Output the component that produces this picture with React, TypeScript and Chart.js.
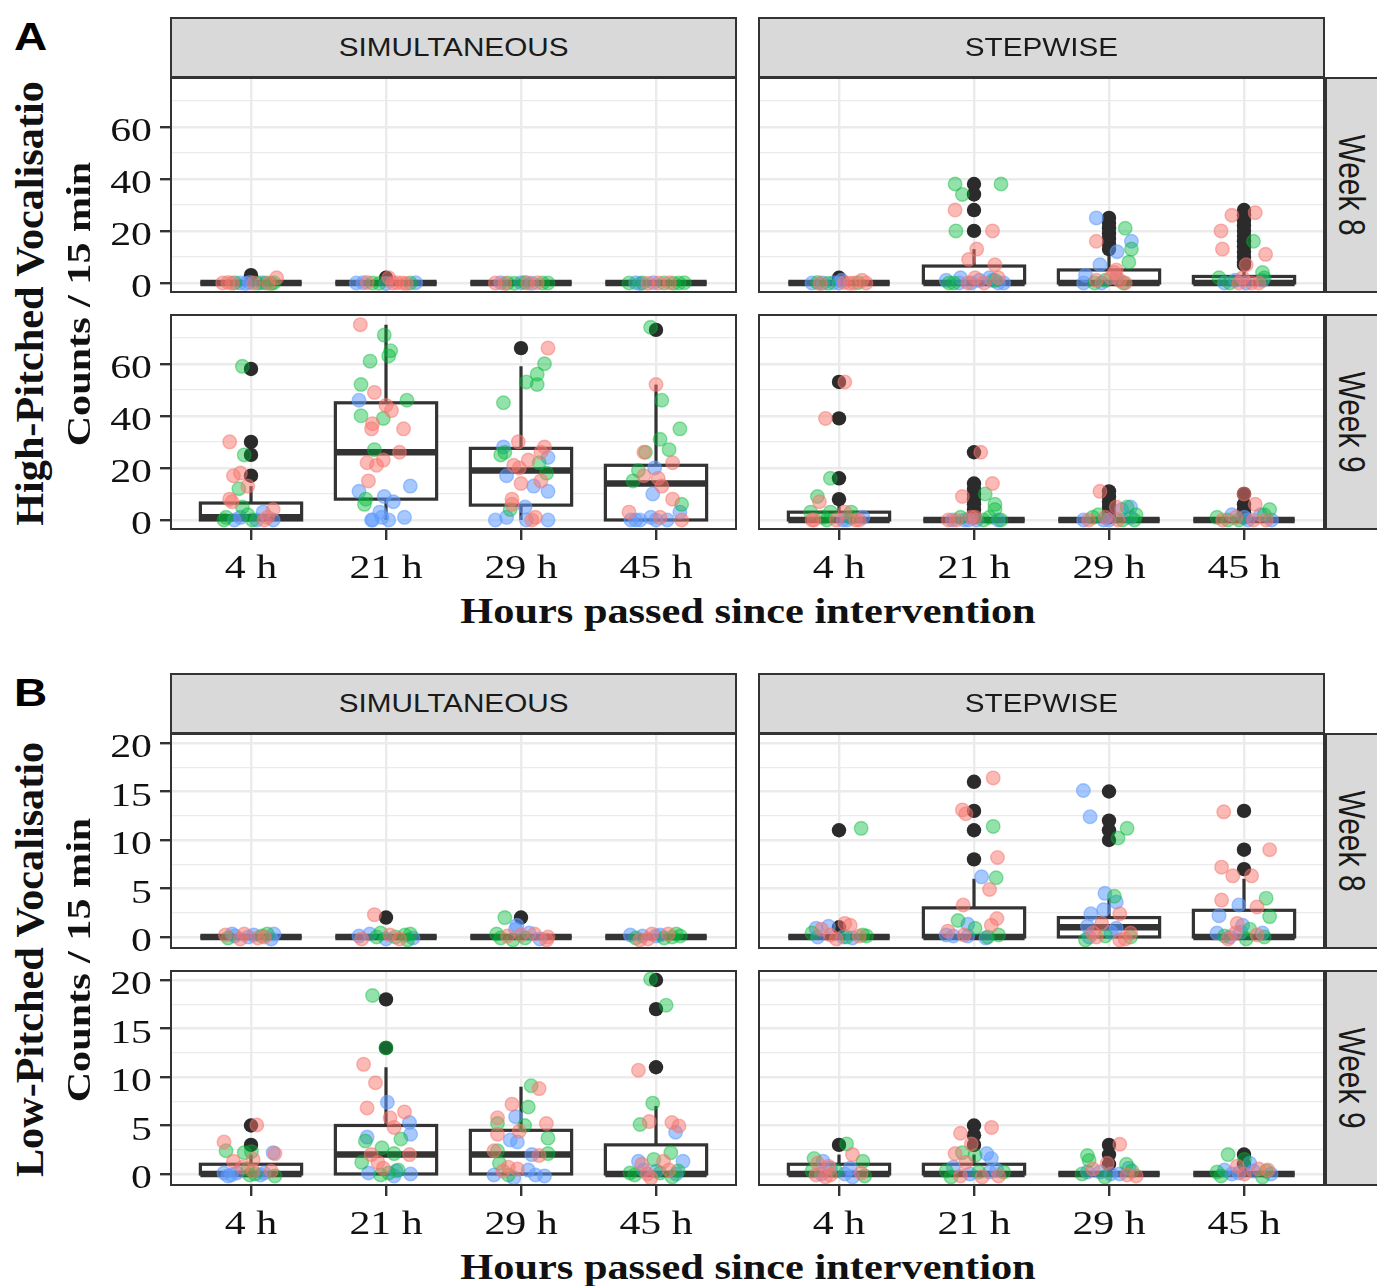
import React, { useEffect, useRef } from 'react';
import { Chart, registerables } from 'chart.js';

Chart.register(...registerables);

type Box = [number, number, number, number, number];
type Outlier = [number, number];
type Pt = [number, number, number, number];

// ---------------- data ----------------
const CATEGORIES = ['4 h', '21 h', '29 h', '45 h'];
const GROUPS = ['Group 1', 'Group 2', 'Group 3'];
const COLUMN_LABELS = ['SIMULTANEOUS', 'STEPWISE'];
const ROW_LABELS = ['Week 8', 'Week 9'];
const X_TITLE = 'Hours passed since intervention';
const Y_TITLE_A = ['High-Pitched Vocalisatio', 'Counts / 15 min'];
const Y_TITLE_B = ['Low-Pitched Vocalisatio', 'Counts / 15 min'];

const Y_RANGE_A = [-3.85, 79.1];
const Y_MAJOR_A = [0, 20, 40, 60];
const Y_MINOR_A = [10, 30, 50, 70];
const Y_RANGE_B = [-1.24, 21.03];
const Y_MAJOR_B = [0, 5, 10, 15, 20];
const Y_MINOR_B = [2.5, 7.5, 12.5, 17.5];

// box stats per category: [lower whisker, q1, median, q3, upper whisker]
const BOX_A_W8_SIM: Box[] = [[0, 0, 0, 0, 0], [0, 0, 0, 0, 0], [0, 0, 0, 0, 0], [0, 0, 0, 0, 0]];
const BOX_A_W8_STEP: Box[] = [[0, 0, 0, 0, 0], [0, 0, 0, 6.5, 13], [0, 0, 0, 5, 12], [0, 0, 0, 2.5, 6]];
const BOX_A_W9_SIM: Box[] = [[0, 0, 1, 6.5, 13], [0, 8, 26, 45, 75], [0, 5.7, 19, 27.5, 59], [0, 0, 14, 21, 52]];
const BOX_A_W9_STEP: Box[] = [[0, 0, 0, 3, 7], [0, 0, 0, 0, 0], [0, 0, 0, 0, 0], [0, 0, 0, 0, 0]];
const BOX_B_W8_SIM: Box[] = [[0, 0, 0, 0, 0], [0, 0, 0, 0, 0], [0, 0, 0, 0, 0], [0, 0, 0, 0, 0]];
const BOX_B_W8_STEP: Box[] = [[0, 0, 0, 0, 0], [0, 0, 0, 3, 6], [0, 0, 1, 2, 4], [0, 0, 0, 2.75, 6]];
const BOX_B_W9_SIM: Box[] = [[0, 0, 0, 1, 2], [0, 0, 2, 5, 11], [0, 0, 2, 4.5, 9], [0, 0, 0, 3, 7]];
const BOX_B_W9_STEP: Box[] = [[0, 0, 0, 1, 2], [0, 0, 0, 1, 2], [0, 0, 0, 0, 0], [0, 0, 0, 0, 0]];

// outliers: [category, value]
const OUT_A_W8_SIM: Outlier[] = [[1, 3], [2, 2]];
const OUT_A_W8_STEP: Outlier[] = [
  [1, 2],
  [2, 38], [2, 34], [2, 28], [2, 20],
  [3, 25], [3, 23], [3, 21], [3, 19], [3, 17], [3, 15], [3, 13],
  [4, 28], [4, 26], [4, 24], [4, 22], [4, 20], [4, 18], [4, 16], [4, 14], [4, 12], [4, 10], [4, 8], [4, 7],
];
const OUT_A_W9_SIM: Outlier[] = [[1, 58], [1, 30], [1, 25], [1, 17], [3, 66], [4, 73]];
const OUT_A_W9_STEP: Outlier[] = [
  [1, 53], [1, 39], [1, 16], [1, 8],
  [2, 26], [2, 14], [2, 12], [2, 10], [2, 8], [2, 6], [2, 4], [2, 2], [2, 1],
  [3, 11], [3, 9], [3, 7], [3, 5], [3, 3], [3, 2], [3, 1],
  [4, 10], [4, 6], [4, 4], [4, 3], [4, 2], [4, 1],
];
const OUT_B_W8_SIM: Outlier[] = [[2, 2], [3, 2]];
const OUT_B_W8_STEP: Outlier[] = [
  [1, 11], [1, 1],
  [2, 16], [2, 13], [2, 11], [2, 8],
  [3, 15], [3, 12], [3, 11], [3, 10],
  [4, 13], [4, 9], [4, 7],
];
const OUT_B_W9_SIM: Outlier[] = [[1, 5], [1, 3], [2, 18], [2, 13], [4, 20], [4, 17], [4, 11]];
const OUT_B_W9_STEP: Outlier[] = [[1, 3], [2, 5], [2, 4], [2, 3], [3, 3], [3, 2], [3, 1], [4, 2], [4, 1]];

// jittered observations: [category, jitter offset, value, group]
const PTS_A_W8_SIM: Pt[] = [
  [1, -0.21, 0, 0], [1, -0.17, 0.2, 0], [1, -0.14, -0.1, 0], [1, -0.12, 0.1, 1], [1, -0.08, 0, 2], [1, -0.04, -0.2, 2], [1, -0.01, 0.2, 2], [1, 0.02, 0, 0], [1, 0.05, -0.1, 1], [1, 0.08, 0.1, 2], [1, 0.11, 0, 1], [1, 0.15, -0.2, 1], [1, 0.17, 0.1, 1], [1, 0.19, 2, 0], [1, 0.13, 0, 0],
  [2, -0.22, 0, 2], [2, -0.17, 0.1, 2], [2, -0.1, 0, 1], [2, -0.05, -0.1, 1], [2, 0.02, 2, 0], [2, 0.05, 0, 0], [2, 0.08, 0.1, 0], [2, 0.12, 0, 0], [2, 0.15, -0.2, 0], [2, 0.18, 0, 1], [2, 0.22, 0.1, 2], [2, -0.14, 0.2, 0], [2, 0, -0.2, 2],
  [3, -0.19, 0, 0], [3, -0.15, 0.1, 2], [3, -0.1, 0, 1], [3, -0.05, -0.1, 1], [3, 0, 0.1, 2], [3, 0.05, 0, 0], [3, 0.08, -0.1, 2], [3, 0.12, 0.1, 0], [3, 0.16, 0, 1], [3, 0.2, 0, 1], [3, -0.12, -0.2, 0], [3, 0.03, 0.2, 1],
  [4, -0.2, 0, 1], [4, -0.15, 0.1, 2], [4, -0.1, 0, 1], [4, -0.06, -0.1, 0], [4, -0.02, 0.1, 2], [4, 0.02, 0, 0], [4, 0.06, 0, 1], [4, 0.1, 0.1, 0], [4, 0.13, -0.1, 1], [4, 0.17, 0, 1], [4, 0.21, 0.1, 1], [4, -0.12, -0.2, 2],
];
const PTS_A_W8_STEP: Pt[] = [
  [1, -0.2, 0, 2], [1, -0.16, 0.2, 1], [1, -0.12, 0, 2], [1, -0.08, -0.1, 1], [1, -0.04, 0.1, 2], [1, 0, 0, 2], [1, 0.04, 0.2, 0], [1, 0.08, -0.1, 0], [1, 0.11, 0, 0], [1, 0.14, 0.1, 1], [1, 0.17, 1, 0], [1, 0.2, 0, 0], [1, -0.14, -0.2, 0], [1, 0.02, 1, 2],
  [2, -0.14, 38, 1], [2, 0.2, 38, 1], [2, -0.086, 34, 1], [2, -0.14, 28, 0], [2, -0.134, 20, 1], [2, 0.137, 20, 0], [2, 0.02, 13, 0], [2, -0.04, 9, 0], [2, 0.155, 7, 0],
  [2, -0.206, 1, 2], [2, -0.185, 0, 1], [2, -0.1, 2, 2], [2, -0.11, 0, 2], [2, 0.008, 2, 0], [2, 0.04, 1, 2], [2, -0.045, 0, 0], [2, 0.137, 1, 2], [2, 0.18, 0, 2], [2, 0.22, 0, 2], [2, 0.115, 2, 2], [2, -0.15, 0, 1], [2, 0.075, 0, 0], [2, -0.02, 0, 2], [2, 0.155, 1, 1], [2, 0.18, 2, 0],
  [3, -0.094, 25, 2], [3, -0.094, 16, 0], [3, 0.12, 21, 1], [3, 0.166, 16, 2], [3, 0.166, 13, 1], [3, 0.06, 12, 2], [3, 0.147, 8, 1], [3, -0.067, 7, 2], [3, 0.054, 5, 0], [3, 0.04, 4, 0], [3, -0.174, 3, 2], [3, -0.188, 0, 2], [3, -0.094, 1, 0], [3, -0.027, 1, 1], [3, 0.013, 2, 0], [3, 0.054, 2, 2], [3, 0.08, 1, 0], [3, 0.12, 0, 0], [3, -0.107, 0, 1], [3, -0.054, 0, 2], [3, 0.107, 0, 1],
  [4, -0.09, 26, 0], [4, 0.083, 27, 0], [4, -0.17, 20, 0], [4, -0.16, 13, 0], [4, 0.07, 16, 1], [4, 0.16, 11, 0], [4, 0.016, 7, 0], [4, 0.137, 4, 1], [4, -0.185, 2, 1], [4, -0.145, 0, 2], [4, -0.105, 0, 1], [4, -0.01, 2, 0], [4, 0.016, 0, 2], [4, 0.056, 0, 0], [4, 0.137, 1, 2], [4, 0.15, 2, 1], [4, -0.038, 0, 0], [4, -0.064, 1, 2], [4, 0.11, 0, 0],
];
const PTS_A_W9_SIM: Pt[] = [
  [1, -0.064, 59, 1], [1, -0.158, 30, 0], [1, -0.05, 25, 1], [1, -0.13, 17, 0], [1, -0.078, 18, 0], [1, -0.024, 13, 0], [1, -0.09, 12, 1], [1, -0.158, 8, 0], [1, -0.14, 7, 0], [1, -0.064, 5, 1], [1, 0.164, 4, 0], [1, -0.185, 1, 1], [1, -0.078, 1, 2], [1, 0.09, 3, 2], [1, 0.164, 0, 2], [1, 0.01, 0, 1], [1, 0.097, 0, 0], [1, -0.123, 0, 2], [1, -0.2, 0, 1], [1, 0.043, 0, 2], [1, 0.123, 1, 0], [1, -0.024, 2, 1],
  [2, -0.19, 75, 0], [2, -0.013, 71, 1], [2, 0.035, 65, 1], [2, 0.02, 63, 1], [2, -0.118, 61, 1], [2, -0.185, 52, 1], [2, -0.2, 46, 2], [2, -0.086, 49, 0], [2, 0.155, 46, 1], [2, 0, 44, 0], [2, 0.04, 42, 0], [2, -0.185, 40, 1], [2, -0.02, 39, 1], [2, -0.1, 37, 0], [2, -0.107, 35, 0], [2, 0.13, 35, 0], [2, -0.086, 27, 1], [2, 0.1, 26, 0], [2, -0.02, 23, 0], [2, -0.14, 22, 0], [2, -0.07, 21, 0], [2, -0.13, 15, 0], [2, -0.2, 11, 2], [2, 0.18, 13, 2], [2, -0.15, 8, 1], [2, -0.16, 6, 1], [2, -0.013, 9, 2], [2, 0.054, 7, 2], [2, -0.046, 3, 2], [2, -0.1, 0, 2], [2, 0.02, 0, 2], [2, 0.137, 1, 2], [2, -0.107, 0, 2], [2, -0.03, 1, 2],
  [3, 0.2, 66, 0], [3, 0.174, 60, 1], [3, 0.12, 56, 1], [3, 0.04, 53, 1], [3, 0.12, 52, 1], [3, -0.13, 45, 1], [3, -0.02, 30, 0], [3, -0.13, 28, 2], [3, -0.15, 25, 1], [3, 0.174, 28, 0], [3, 0.147, 26, 0], [3, 0.2, 24, 2], [3, 0.054, 23, 0], [3, -0.054, 21, 0], [3, -0.013, 20, 0], [3, 0.19, 18, 1], [3, -0.107, 17, 2], [3, 0.147, 15, 0], [3, 0, 14, 0], [3, 0.094, 13, 2], [3, 0.2, 11, 2], [3, -0.067, 8, 0], [3, -0.067, 6, 0], [3, 0.03, 5, 2], [3, -0.08, 4, 1], [3, -0.19, 0, 2], [3, -0.107, 1, 2], [3, 0.107, 1, 0], [3, 0.04, 0, 2], [3, 0.2, 0, 2], [3, 0.08, 0, 0], [3, 0.134, 22, 1], [3, -0.12, 26, 1],
  [4, -0.04, 74, 1], [4, 0, 52, 0], [4, 0.043, 46, 1], [4, 0.177, 35, 1], [4, 0.03, 31, 1], [4, 0.097, 27, 1], [4, -0.078, 26, 1], [4, -0.09, 26, 0], [4, 0.123, 22, 0], [4, -0.13, 19, 1], [4, -0.01, 20, 2], [4, -0.09, 17, 0], [4, 0.016, 16, 0], [4, -0.17, 15, 1], [4, 0.043, 13, 0], [4, -0.024, 10, 2], [4, 0.123, 8, 0], [4, 0.19, 6, 1], [4, 0.177, 3, 2], [4, -0.2, 3, 0], [4, -0.185, 0, 2], [4, -0.118, 0, 2], [4, -0.038, 1, 2], [4, 0.03, 1, 0], [4, 0.083, 0, 2], [4, 0.19, 0, 0], [4, 0, 0, 2], [4, -0.15, 0, 2],
];
const PTS_A_W9_STEP: Pt[] = [
  [1, 0.043, 53, 0], [1, -0.1, 39, 0], [1, -0.064, 16, 1], [1, -0.16, 9, 1], [1, -0.145, 7, 0], [1, -0.21, 3, 1], [1, -0.064, 3, 1], [1, 0.043, 3, 0], [1, 0.09, 3, 1], [1, -0.185, 0, 0], [1, -0.118, 1, 1], [1, 0.03, 0, 2], [1, 0.123, 0, 0], [1, 0.177, 1, 2], [1, -0.2, 0, 0], [1, -0.02, 0, 0], [1, 0.06, 0, 2], [1, 0.15, 0, 0], [1, -0.09, 0, 1], [1, 0.09, 1, 1],
  [2, 0.05, 26, 0], [2, 0.137, 14, 0], [2, -0.086, 9, 0], [2, 0.083, 10, 1], [2, 0.155, 6, 1], [2, 0.155, 4, 1], [2, -0.19, 0, 0], [2, -0.16, 0, 2], [2, -0.1, 1, 1], [2, -0.07, 0, 2], [2, 0.008, 1, 0], [2, 0.02, 0, 2], [2, 0.115, 1, 1], [2, 0.18, 0, 2], [2, -0.02, 1, 0], [2, -0.13, 0, 0], [2, 0.07, 0, 1], [2, 0.2, 0, 1], [2, -0.04, 0, 2],
  [3, -0.067, 11, 0], [3, 0.054, 5, 0], [3, 0.16, 5, 2], [3, 0.094, 4, 2], [3, 0.134, 5, 1], [3, -0.08, 2, 1], [3, -0.027, 1, 0], [3, -0.188, 0, 2], [3, 0.067, 0, 0], [3, 0.188, 0, 1], [3, 0.2, 2, 1], [3, -0.04, 0, 2], [3, 0.16, 1, 2], [3, -0.15, 0, 0], [3, 0.1, 0, 1], [3, 0, 0, 2], [3, -0.12, 1, 1],
  [4, 0, 10, 0], [4, 0.083, 6, 0], [4, 0.19, 4, 1], [4, -0.2, 1, 1], [4, -0.158, 0, 0], [4, -0.09, 2, 2], [4, -0.038, 0, 1], [4, 0.003, 1, 2], [4, 0.07, 0, 0], [4, 0.123, 2, 2], [4, 0.164, 0, 0], [4, 0.15, 2, 1], [4, 0.204, 0, 2], [4, -0.12, 0, 1], [4, 0.03, 0, 2], [4, -0.06, 1, 0],
];
const PTS_B_W8_SIM: Pt[] = [
  [1, -0.19, 0.2, 0], [1, -0.17, -0.1, 1], [1, -0.12, 0.1, 2], [1, -0.08, -0.2, 0], [1, -0.05, 0.3, 0], [1, -0.02, 0, 2], [1, 0.02, 0.2, 2], [1, 0.05, -0.1, 0], [1, 0.08, 0.1, 1], [1, 0.12, 0.3, 1], [1, 0.15, -0.2, 2], [1, 0.17, 0.3, 2], [1, 0.1, 0, 0], [1, -0.14, 0.3, 2],
  [2, -0.086, 2.3, 0], [2, -0.2, 0.1, 2], [2, -0.18, -0.2, 0], [2, -0.12, 0.3, 2], [2, -0.07, 0, 1], [2, -0.04, 0.4, 1], [2, 0, -0.2, 2], [2, 0.03, 0.2, 0], [2, 0.07, 0, 1], [2, 0.1, -0.2, 0], [2, 0.14, 0.2, 1], [2, 0.18, 0.3, 1], [2, 0.2, -0.1, 2], [2, 0.16, -0.3, 1],
  [3, -0.12, 2, 1], [3, -0.03, 1.2, 2], [3, -0.04, 0.8, 2], [3, -0.18, 0.3, 1], [3, -0.15, -0.1, 1], [3, -0.1, 0.1, 0], [3, -0.06, -0.3, 1], [3, 0, 0.2, 0], [3, 0.03, -0.1, 1], [3, 0.06, 0.4, 2], [3, 0.1, 0.3, 0], [3, 0.14, -0.2, 2], [3, 0.19, -0.3, 0], [3, 0.2, 0, 0],
  [4, -0.19, 0.2, 2], [4, -0.15, -0.1, 1], [4, -0.1, 0.1, 2], [4, -0.06, -0.2, 0], [4, -0.03, 0.3, 0], [4, 0, 0.1, 2], [4, 0.03, 0.2, 2], [4, 0.06, -0.1, 1], [4, 0.09, 0.3, 0], [4, 0.12, 0, 1], [4, 0.15, 0.3, 1], [4, 0.18, 0.1, 1], [4, -0.12, -0.3, 0],
];
const PTS_B_W8_STEP: Pt[] = [
  [1, 0.164, 11.2, 1], [1, 0.043, 1.4, 0], [1, 0.083, 1.2, 0], [1, -0.078, 1.1, 2], [1, -0.17, 0.9, 2], [1, -0.13, 0.8, 0], [1, -0.2, 0.4, 1], [1, -0.064, 0.2, 0], [1, 0.056, 0, 1], [1, 0.03, 0, 2], [1, 0.177, 0.2, 1], [1, 0.15, 0.1, 0], [1, -0.158, 0, 2], [1, 0.204, 0.1, 1], [1, -0.02, -0.2, 0], [1, 0.1, -0.1, 2],
  [2, 0.142, 16.4, 0], [2, -0.086, 13.1, 0], [2, -0.06, 12.7, 0], [2, 0.142, 11.4, 1], [2, 0.174, 8.2, 0], [2, 0.056, 6.2, 2], [2, 0.164, 6.1, 1], [2, 0.115, 4.9, 0], [2, -0.08, 3.3, 0], [2, 0.17, 1.9, 0], [2, -0.118, 1.7, 1], [2, -0.046, 1.3, 2], [2, 0.008, 0.9, 1], [2, 0.128, 1.2, 0], [2, -0.206, 0.2, 2], [2, -0.153, 0.1, 2], [2, -0.193, 0.6, 0], [2, 0.102, 0, 1], [2, 0.088, -0.1, 2], [2, 0.182, 0.2, 1], [2, -0.046, 0.1, 2], [2, -0.073, 0.2, 0],
  [3, -0.19, 15.1, 2], [3, -0.14, 12.4, 2], [3, 0.134, 11.2, 1], [3, 0.067, 10.2, 1], [3, -0.03, 4.5, 2], [3, 0.04, 4.2, 1], [3, 0.054, 3.6, 2], [3, -0.04, 2.8, 2], [3, -0.134, 2.4, 2], [3, 0.08, 2.4, 0], [3, -0.16, 1.1, 2], [3, -0.054, 1.4, 0], [3, 0.054, 0.9, 2], [3, -0.12, 0.4, 0], [3, -0.147, 0, 2], [3, -0.174, -0.3, 1], [3, -0.094, 0, 0], [3, -0.027, 0.1, 1], [3, 0.08, -0.3, 0], [3, 0.16, 0.4, 0], [3, 0.16, 0, 1], [3, 0.013, 0.5, 2], [3, 0.12, -0.2, 0],
  [4, -0.15, 12.9, 0], [4, 0.19, 9, 0], [4, -0.166, 7.2, 0], [4, -0.083, 6.3, 0], [4, 0.056, 6.3, 0], [4, 0.164, 4, 1], [4, -0.166, 3.8, 0], [4, -0.038, 3.3, 2], [4, 0.097, 3.1, 0], [4, -0.185, 2.2, 2], [4, 0.19, 2.1, 1], [4, -0.05, 1.4, 0], [4, -0.01, 1.2, 2], [4, 0.043, 0.8, 1], [4, -0.2, 0.4, 2], [4, -0.145, 0.1, 1], [4, -0.105, 0, 2], [4, -0.064, 0.4, 0], [4, -0.024, 0.5, 2], [4, 0.097, 0.2, 0], [4, 0.137, 0.4, 2], [4, 0.15, 0, 1], [4, 0.016, -0.2, 1], [4, -0.118, -0.2, 0],
];
const PTS_B_W9_SIM: Pt[] = [
  [1, 0.043, 5.05, 0], [1, -0.2, 3.3, 0], [1, -0.185, 2.4, 1], [1, -0.13, 1.3, 0], [1, -0.05, 2.2, 1], [1, 0.003, 2.3, 1], [1, 0.016, 1.5, 0], [1, 0.177, 2.1, 0], [1, 0.164, 2.2, 2], [1, -0.024, 0.5, 1], [1, 0.016, 0.3, 0], [1, -0.2, 0.1, 2], [1, -0.145, -0.1, 2], [1, -0.105, 0.1, 2], [1, -0.01, -0.1, 1], [1, 0.097, 0.1, 2], [1, 0.177, -0.2, 1], [1, 0.07, -0.1, 2], [1, 0.15, 0.3, 0], [1, -0.064, 0.7, 0], [1, -0.17, -0.2, 2], [1, 0.03, 0, 1],
  [2, -0.1, 18.4, 1], [2, 0, 13, 1], [2, -0.166, 11.3, 0], [2, -0.078, 9.4, 0], [2, 0.01, 7.4, 2], [2, -0.14, 6.8, 0], [2, 0.137, 6.4, 0], [2, 0.03, 5.8, 0], [2, 0.174, 5.3, 2], [2, 0.06, 4.8, 0], [2, 0.182, 4.1, 2], [2, -0.14, 3.8, 2], [2, -0.153, 3.4, 1], [2, 0.11, 3.6, 1], [2, -0.03, 2.7, 1], [2, -0.11, 2, 0], [2, 0.06, 2.1, 1], [2, 0.174, 2, 0], [2, -0.06, 1.2, 0], [2, -0.18, 1.2, 1], [2, -0.13, 0.1, 2], [2, 0.02, 0.1, 1], [2, 0.075, 0.3, 2], [2, 0.182, 0, 2], [2, 0.09, 0.4, 1], [2, -0.02, 0.6, 0], [2, 0.06, -0.2, 2], [2, -0.04, -0.1, 1],
  [3, 0.075, 9.1, 1], [3, 0.134, 8.8, 0], [3, -0.067, 7.2, 0], [3, 0.054, 6.9, 1], [3, -0.174, 5.8, 0], [3, -0.04, 5.9, 2], [3, 0.188, 5.2, 0], [3, -0.174, 5.2, 1], [3, 0.027, 5, 1], [3, -0.013, 4.4, 0], [3, -0.174, 4.1, 0], [3, 0.2, 3.7, 1], [3, -0.08, 3.5, 2], [3, -0.027, 3.3, 2], [3, -0.2, 2.4, 0], [3, -0.174, 2.4, 1], [3, 0.08, 2, 2], [3, 0.2, 2.1, 1], [3, 0.134, 1.9, 0], [3, -0.16, 1.1, 1], [3, -0.094, 0.7, 0], [3, -0.027, 0.5, 0], [3, -0.2, -0.1, 2], [3, -0.054, -0.4, 2], [3, 0.054, 0.4, 2], [3, 0.107, -0.1, 2], [3, 0.174, -0.2, 2], [3, -0.094, -0.1, 1], [3, -0.134, 0.3, 0],
  [4, -0.04, 20.1, 1], [4, 0.075, 17.4, 1], [4, -0.13, 10.7, 0], [4, -0.024, 7.3, 1], [4, -0.05, 5.4, 0], [4, -0.118, 5.1, 1], [4, 0.118, 5.3, 0], [4, 0.17, 4.95, 0], [4, 0.145, 4.3, 2], [4, 0.11, 2.2, 1], [4, -0.13, 1.3, 2], [4, -0.105, 1, 0], [4, -0.016, 1.5, 1], [4, 0.056, 1.3, 0], [4, 0.2, 1.3, 2], [4, -0.193, 0.1, 1], [4, -0.158, -0.1, 1], [4, -0.064, 0, 0], [4, 0.003, 0.3, 2], [4, 0.03, 0.1, 1], [4, 0.097, 0.4, 0], [4, 0.15, 0, 2], [4, 0.164, 0.3, 1], [4, -0.038, -0.4, 0], [4, -0.09, 0.4, 2], [4, 0.12, -0.3, 1],
];
const PTS_B_W9_STEP: Pt[] = [
  [1, 0.056, 3.1, 1], [1, 0.1, 2, 0], [1, -0.185, 1.6, 1], [1, -0.118, 1.3, 2], [1, -0.158, 1.1, 0], [1, -0.078, 0.8, 0], [1, -0.2, 0.3, 1], [1, -0.064, 0.6, 2], [1, 0.083, 0.6, 2], [1, 0.177, 1.3, 1], [1, 0.164, 0.1, 0], [1, -0.13, 0, 2], [1, -0.17, -0.1, 0], [1, -0.024, 0.3, 1], [1, 0.043, 0, 2], [1, -0.064, -0.1, 0], [1, 0.19, -0.2, 1], [1, 0.1, -0.3, 2], [1, -0.1, -0.3, 0],
  [2, 0.13, 4.8, 0], [2, -0.1, 4.2, 0], [2, -0.02, 3.1, 0], [2, -0.14, 2.1, 0], [2, -0.086, 2.2, 1], [2, 0.094, 2.1, 2], [2, 0.128, 1.6, 2], [2, 0.008, 1.9, 1], [2, -0.06, 1.2, 0], [2, -0.153, 0.7, 2], [2, -0.206, 0.3, 1], [2, -0.1, -0.2, 0], [2, -0.03, 0, 2], [2, 0.035, 0.2, 1], [2, 0.115, 0.2, 2], [2, 0.182, -0.2, 0], [2, 0.22, 0.2, 1], [2, 0.169, 0.4, 2], [2, -0.17, -0.3, 1], [2, 0.06, -0.3, 0],
  [3, 0.08, 3.06, 0], [3, -0.16, 1.9, 1], [3, -0.147, 1.4, 1], [3, -0.013, 1.1, 0], [3, 0.129, 1, 1], [3, 0.147, 0.6, 2], [3, -0.16, 0.2, 2], [3, -0.067, 0.2, 2], [3, 0.013, 0, 2], [3, -0.2, 0, 1], [3, -0.12, 0.5, 0], [3, 0.134, -0.1, 0], [3, 0.201, -0.2, 0], [3, 0.08, 0, 2], [3, 0.17, 0.3, 1], [3, -0.03, -0.3, 1],
  [4, -0.118, 2, 1], [4, 0.003, 1.5, 1], [4, 0.043, 1.1, 2], [4, -0.05, 0.8, 0], [4, -0.145, 0.4, 2], [4, -0.2, 0.2, 1], [4, 0.11, 0.5, 0], [4, 0.164, 0.3, 1], [4, -0.038, 0.1, 2], [4, 0.003, 0, 0], [4, -0.09, 0, 2], [4, 0.137, -0.3, 1], [4, 0.177, 0.4, 0], [4, 0.07, 0.3, 2], [4, -0.17, -0.2, 1], [4, 0.2, 0, 2],
];

// ---------------- styling / layout ----------------
const SERIF = '"Liberation Serif", "Times New Roman", serif';
const SANS = '"Liberation Sans", Arial, sans-serif';
const INK = '#111111';
const STRIP_INK = '#1a1a1a';
const AXIS_COL = '#333333';
const GRID_COL = '#ebebeb';
const STRIP_BG = '#d9d9d9';
const FILLS = ['rgba(248,118,109,0.5)', 'rgba(0,186,56,0.42)', 'rgba(97,156,255,0.55)'];
const OUTLIER_COL = '#2b2b2b';
const STRETCH = 1.23;

const PW = 567;
const PH = 216;
const YW = 75;
const XH = 60;
const PAD = 10;
const COL_X = [170, 758];
const FIG_TOP = [17, 673];

interface PanelDef {
  id: string;
  left: number;
  top: number;
  showY: boolean;
  showX: boolean;
  range: number[];
  major: number[];
  minor: number[];
  boxes: Box[];
  outliers: Outlier[];
  points: Pt[];
}

function PanelChart({ def }: { def: PanelDef }) {
  const ref = useRef<HTMLCanvasElement | null>(null);
  const yw = def.showY ? YW : 0;
  const cw = PW + yw;
  const ch = PAD + PH + (def.showX ? XH : PAD);

  useEffect(() => {
    const canvas = ref.current;
    if (!canvas) return;
    const isMajor = (v: any) => def.major.includes(v);

    const decor = {
      id: 'panelDecor',
      beforeDatasetsDraw(chart: any) {
        const ctx = chart.ctx;
        const xs = chart.scales.x;
        const ys = chart.scales.y;
        const a = chart.chartArea;
        ctx.save();
        ctx.beginPath();
        ctx.rect(a.left, a.top, a.right - a.left, a.bottom - a.top);
        ctx.clip();
        ctx.strokeStyle = AXIS_COL;
        def.boxes.forEach((b, i) => {
          const c = i + 1;
          const cx = xs.getPixelForValue(c);
          const x0 = xs.getPixelForValue(c - 0.375);
          const x1 = xs.getPixelForValue(c + 0.375);
          const [lo, q1, med, q3, hi] = b.map((v) => ys.getPixelForValue(v));
          ctx.lineWidth = 3.2;
          ctx.beginPath();
          ctx.moveTo(cx, q3);
          ctx.lineTo(cx, hi);
          ctx.moveTo(cx, q1);
          ctx.lineTo(cx, lo);
          ctx.stroke();
          ctx.fillStyle = '#ffffff';
          ctx.fillRect(x0, q3, x1 - x0, q1 - q3);
          ctx.strokeRect(x0, q3, x1 - x0, q1 - q3);
          ctx.lineWidth = 6.5;
          ctx.beginPath();
          ctx.moveTo(x0, med);
          ctx.lineTo(x1, med);
          ctx.stroke();
        });
        ctx.restore();
      },
      afterDraw(chart: any) {
        const ctx = chart.ctx;
        const xs = chart.scales.x;
        const ys = chart.scales.y;
        const a = chart.chartArea;
        ctx.save();
        ctx.strokeStyle = AXIS_COL;
        ctx.lineWidth = 2;
        ctx.strokeRect(a.left + 1, a.top + 1, a.right - a.left - 2, a.bottom - a.top - 2);
        ctx.fillStyle = INK;
        ctx.font = `34px ${SERIF}`;
        ctx.textBaseline = 'alphabetic';
        if (def.showY) {
          ys.ticks.forEach((t: any) => {
            if (!isMajor(t.value)) return;
            const y = ys.getPixelForValue(t.value);
            ctx.save();
            ctx.translate(a.left - 18, y + 14.5);
            ctx.scale(STRETCH, 1);
            ctx.textAlign = 'right';
            ctx.fillText(String(t.value), 0, 0);
            ctx.restore();
          });
        }
        if (def.showX) {
          xs.ticks.forEach((t: any) => {
            const x = xs.getPixelForValue(t.value);
            ctx.save();
            ctx.translate(x, a.bottom + 48);
            ctx.scale(STRETCH, 1);
            ctx.textAlign = 'center';
            ctx.fillText(CATEGORIES[t.value - 1], 0, 0);
            ctx.restore();
          });
        }
        ctx.restore();
      },
    };

    const datasets: any[] = GROUPS.map((g, gi) => ({
      label: g,
      order: gi,
      data: def.points.filter((p) => p[3] === gi).map((p) => ({ x: p[0] + p[1], y: p[2] })),
      pointRadius: 6.8,
      pointBackgroundColor: FILLS[gi],
      pointBorderColor: FILLS[gi],
      pointBorderWidth: 1.4,
    }));
    datasets.push({
      label: 'Outliers',
      order: 10,
      data: def.outliers.map((o) => ({ x: o[0], y: o[1] })),
      pointRadius: 7.2,
      pointBackgroundColor: OUTLIER_COL,
      pointBorderColor: OUTLIER_COL,
      pointBorderWidth: 0,
    });

    const chart = new Chart(canvas, {
      type: 'scatter',
      data: { datasets },
      plugins: [decor],
      options: {
        responsive: false,
        animation: false,
        devicePixelRatio: 1,
        events: [],
        layout: { autoPadding: false, padding: { top: PAD, bottom: def.showX ? 0 : PAD, left: 0, right: 0 } },
        plugins: { legend: { display: false }, tooltip: { enabled: false } },
        scales: {
          x: {
            type: 'linear',
            min: 0.4,
            max: 4.6,
            afterBuildTicks: (s: any) => {
              s.ticks = CATEGORIES.map((_, i) => ({ value: i + 1 }));
            },
            afterFit: (s: any) => {
              s.height = def.showX ? XH : 0;
              s.paddingLeft = 0;
              s.paddingRight = 0;
            },
            ticks: { display: false },
            grid: {
              color: GRID_COL,
              lineWidth: 2.4,
              drawTicks: def.showX,
              tickLength: 10,
              tickColor: AXIS_COL,
              tickWidth: 2.4,
            },
            border: { display: false },
          },
          y: {
            type: 'linear',
            min: def.range[0],
            max: def.range[1],
            afterBuildTicks: (s: any) => {
              s.ticks = [...def.major, ...def.minor].sort((p, q) => p - q).map((v) => ({ value: v }));
            },
            afterFit: (s: any) => {
              s.width = def.showY ? YW : 0;
              s.paddingTop = 0;
              s.paddingBottom = 0;
            },
            ticks: { display: false },
            grid: {
              color: GRID_COL,
              lineWidth: (c: any) => (isMajor(c.tick && c.tick.value) ? 2.4 : 1.2),
              drawTicks: def.showY,
              tickLength: 10,
              tickColor: (c: any) => (isMajor(c.tick && c.tick.value) ? AXIS_COL : 'rgba(0,0,0,0)'),
              tickWidth: 2.4,
            },
            border: { display: false },
          },
        },
      } as any,
    });
    return () => chart.destroy();
  }, [def]);

  return (
    <canvas
      ref={ref}
      width={cw}
      height={ch}
      style={{ position: 'absolute', left: def.left - yw, top: def.top - PAD, width: cw, height: ch, zIndex: 1 }}
    />
  );
}

function TopStrip({ left, top, text }: { left: number; top: number; text: string }) {
  return (
    <div
      style={{
        position: 'absolute', left, top, width: PW, height: 61, boxSizing: 'border-box',
        background: STRIP_BG, border: `2px solid ${AXIS_COL}`, zIndex: 2,
        display: 'flex', alignItems: 'center', justifyContent: 'center',
      }}
    >
      <span style={{ display: 'inline-block', font: `26.5px ${SANS}`, lineHeight: 1, color: STRIP_INK, transform: 'scaleX(1.12)', whiteSpace: 'nowrap' }}>
        {text}
      </span>
    </div>
  );
}

function SideStrip({ top, text }: { top: number; text: string }) {
  return (
    <div
      style={{
        position: 'absolute', left: 1325, top, width: 62, height: PH, boxSizing: 'border-box',
        background: STRIP_BG, border: `2px solid ${AXIS_COL}`, zIndex: 2,
        display: 'flex', alignItems: 'center', justifyContent: 'center', paddingRight: 8,
      }}
    >
      <span style={{ display: 'inline-block', font: `30px ${SANS}`, lineHeight: 1, color: STRIP_INK, transform: `rotate(90deg) scaleY(${STRETCH})`, whiteSpace: 'nowrap' }}>
        {text}
      </span>
    </div>
  );
}

function RotText({ cx, cy, size, stretch, text }: { cx: number; cy: number; size: number; stretch: number; text: string }) {
  return (
    <div
      style={{
        position: 'absolute', left: cx - 350, top: cy - size / 2, width: 700, height: size,
        font: `bold ${size}px ${SERIF}`, lineHeight: `${size}px`, textAlign: 'center', color: INK,
        whiteSpace: 'nowrap', transform: `rotate(-90deg) scaleX(${stretch})`, zIndex: 3,
      }}
    >
      {text}
    </div>
  );
}

function Figure({ fig }: { fig: number }) {
  const T = FIG_TOP[fig];
  const rowTop = [T + 60, T + 297];
  const isA = fig === 0;
  const range = isA ? Y_RANGE_A : Y_RANGE_B;
  const major = isA ? Y_MAJOR_A : Y_MAJOR_B;
  const minor = isA ? Y_MINOR_A : Y_MINOR_B;
  const boxes = isA
    ? [[BOX_A_W8_SIM, BOX_A_W8_STEP], [BOX_A_W9_SIM, BOX_A_W9_STEP]]
    : [[BOX_B_W8_SIM, BOX_B_W8_STEP], [BOX_B_W9_SIM, BOX_B_W9_STEP]];
  const outs = isA
    ? [[OUT_A_W8_SIM, OUT_A_W8_STEP], [OUT_A_W9_SIM, OUT_A_W9_STEP]]
    : [[OUT_B_W8_SIM, OUT_B_W8_STEP], [OUT_B_W9_SIM, OUT_B_W9_STEP]];
  const pts = isA
    ? [[PTS_A_W8_SIM, PTS_A_W8_STEP], [PTS_A_W9_SIM, PTS_A_W9_STEP]]
    : [[PTS_B_W8_SIM, PTS_B_W8_STEP], [PTS_B_W9_SIM, PTS_B_W9_STEP]];
  const titles = isA ? Y_TITLE_A : Y_TITLE_B;
  const midY = (rowTop[0] + rowTop[1] + PH) / 2;

  const panels: PanelDef[] = [];
  for (let r = 0; r < 2; r++) {
    for (let c = 0; c < 2; c++) {
      panels.push({
        id: `${fig}-${r}-${c}`,
        left: COL_X[c],
        top: rowTop[r],
        showY: c === 0,
        showX: r === 1,
        range, major, minor,
        boxes: boxes[r][c],
        outliers: outs[r][c],
        points: pts[r][c],
      });
    }
  }

  return (
    <>
      <div
        style={{
          position: 'absolute', left: 14, top: T, font: `bold 39px ${SANS}`, lineHeight: '39px',
          color: '#000', transform: 'scaleX(1.18)', transformOrigin: 'left center', zIndex: 3,
        }}
      >
        {isA ? 'A' : 'B'}
      </div>
      {COLUMN_LABELS.map((t, c) => (
        <TopStrip key={t} left={COL_X[c]} top={T} text={t} />
      ))}
      {ROW_LABELS.map((t, r) => (
        <SideStrip key={t} top={rowTop[r]} text={t} />
      ))}
      {panels.map((p) => (
        <PanelChart key={p.id} def={p} />
      ))}
      <RotText cx={29} cy={midY} size={41} stretch={1.03} text={titles[0]} />
      <RotText cx={78.5} cy={midY} size={34} stretch={1.24} text={titles[1]} />
      <div
        style={{
          position: 'absolute', left: 748 - 450, top: rowTop[1] + PH + 93 - 29, width: 900, height: 35,
          font: `bold 35px ${SERIF}`, lineHeight: '35px', textAlign: 'center', color: INK,
          whiteSpace: 'nowrap', transform: 'scaleX(1.21)', zIndex: 3,
        }}
      >
        {X_TITLE}
      </div>
    </>
  );
}

export default function App() {
  return (
    <div
      style={{
        position: 'absolute', left: 0, top: 0, width: 1377, height: 1286,
        overflow: 'hidden', background: '#ffffff',
      }}
    >
      <Figure fig={0} />
      <Figure fig={1} />
    </div>
  );
}
